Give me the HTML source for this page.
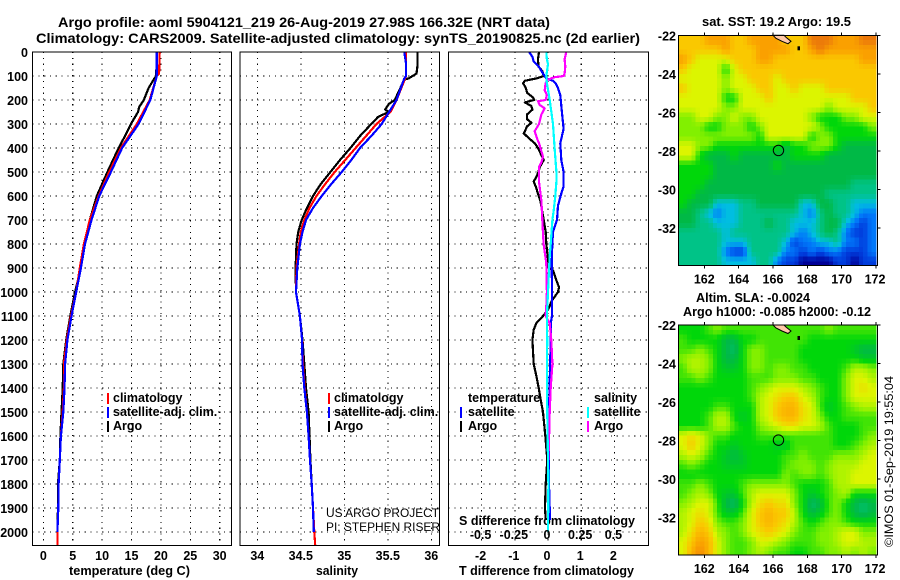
<!DOCTYPE html>
<html>
<head>
<meta charset="utf-8">
<style>
html,body{margin:0;padding:0;background:#fff;}
svg{display:block;}
text{font-family:"Liberation Sans",sans-serif;fill:#000;}
.b{font-weight:bold;font-size:12.5px;}
.t{font-weight:bold;font-size:14px;}
.n{font-size:12px;}
</style>
</head>
<body>
<svg id="chart" width="900" height="580" viewBox="0 0 900 580" xmlns="http://www.w3.org/2000/svg">
<rect width="900" height="580" fill="#fff"/>
<text class="t" x="58" y="27" textLength="492" lengthAdjust="spacingAndGlyphs">Argo profile: aoml 5904121_219 26-Aug-2019 27.98S 166.32E (NRT data)</text>
<text class="t" x="36" y="43" textLength="604" lengthAdjust="spacingAndGlyphs">Climatology: CARS2009. Satellite-adjusted climatology: synTS_20190825.nc (2d earlier)</text>
<text class="b" x="69" y="575" textLength="121" lengthAdjust="spacingAndGlyphs">temperature (deg C)</text>
<text class="b" x="316" y="575" textLength="42" lengthAdjust="spacingAndGlyphs">salinity</text>
<text class="b" x="459" y="575" textLength="175" lengthAdjust="spacingAndGlyphs">T difference from climatology</text>
<text class="b" x="459" y="525" textLength="176" lengthAdjust="spacingAndGlyphs">S difference from climatology</text>
<text class="b" x="702" y="26" textLength="149" lengthAdjust="spacingAndGlyphs">sat. SST: 19.2 Argo: 19.5</text>
<text class="b" x="696" y="302" textLength="114" lengthAdjust="spacingAndGlyphs">Altim. SLA: -0.0024</text>
<text class="b" x="683" y="316" textLength="188" lengthAdjust="spacingAndGlyphs">Argo h1000: -0.085 h2000: -0.12</text>
<text class="n" transform="translate(893,547) rotate(-90)" textLength="171" lengthAdjust="spacingAndGlyphs">©IMOS 01-Sep-2019 19:55:04</text>
<text class="n" x="326" y="517" textLength="113" lengthAdjust="spacingAndGlyphs">US ARGO PROJECT</text>
<text class="n" x="326" y="531" textLength="114" lengthAdjust="spacingAndGlyphs">PI: STEPHEN RISER</text>
<g id="layer"></g>
</svg>
<script>
// ---------- axis tick data ----------
const depthTicks = [0,100,200,300,400,500,600,700,800,900,1000,1100,1200,1300,1400,1500,1600,1700,1800,1900,2000];
const tempTicks = [0,5,10,15,20,25,30];
const salTicks = [34,34.5,35,35.5,36];
const salTickLabels = ['34','34.5','35','35.5','36'];
const tDiffTicks = [-2,-1,0,1,2];
const sDiffTicks = [-0.5,-0.25,0,0.25,0.5];
const sDiffTickLabels = ['-0.5','-0.25','0','0.25','0.5'];
const lonTicks = [162,164,166,168,170,172];
const latTicks = [-22,-24,-26,-28,-30,-32];

// ---------- temperature profiles ----------
const argoTempDepth = [0,100,110,150,200,230,250,300,350,400,500,600,700,800,900,1000,1100,1200,1300,1400,1500,1600,1700,1800,1900,1980];
const argoTemp = [19.3,19.2,18.9,17.9,17.1,16.3,16.1,14.9,13.9,12.8,10.9,9.1,7.9,7.1,6.4,5.4,4.6,3.9,3.4,3.3,3.1,2.9,2.8,2.5,2.5,2.4];
const climTempDepth = [0,90,100,200,300,400,500,600,700,800,900,1000,1100,1200,1300,1400,1500,1600,1700,1800,1900,2000,2055];
const climTemp = [19.8,19.7,19.3,18.1,15.9,13.2,11.2,9.4,7.9,6.9,6.2,5.6,4.7,4.0,3.5,3.5,3.3,3.0,2.8,2.6,2.55,2.4,2.4];
const satTempDepth = [0,100,200,300,400,500,600,700,800,900,1000,1100,1200,1300,1400,1500,1600,1700,1800,1900,2000];
const satTemp = [19.3,19.3,18.2,16.2,13.4,11.5,9.5,8.2,7.1,6.4,5.6,4.8,4.1,3.7,3.6,3.4,3.0,2.8,2.6,2.55,2.4];

// ---------- salinity profiles ----------
const argoSalDepth = [0,60,90,110,115,130,200,217,240,250,270,300,350,400,450,500,550,600,650,700,750,800,900,1000,1100,1200,1300,1400,1500,1600,1700,1800,1900,1980];
const argoSal = [35.84,35.84,35.83,35.74,35.69,35.67,35.58,35.51,35.47,35.51,35.39,35.31,35.18,35.07,34.95,34.84,34.73,34.64,34.57,34.51,34.47,34.45,34.44,34.445,34.49,34.52,34.54,34.56,34.59,34.60,34.61,34.625,34.64,34.65];
const climSalDepth = [0,100,200,250,300,350,400,450,500,550,600,650,700,750,800,900,1000,1100,1200,1300,1400,1500,1600,1700,1800,1900,2000,2055];
const climSal = [35.71,35.71,35.6,35.53,35.37,35.25,35.13,35.01,34.89,34.78,34.68,34.60,34.54,34.50,34.48,34.45,34.445,34.49,34.515,34.525,34.545,34.57,34.59,34.606,34.625,34.64,34.655,34.665];
const satSalDepth = [0,50,100,110,200,300,350,400,450,500,550,600,650,700,750,800,900,1000,1100,1200,1300,1400,1500,1600,1700,1800,1900,2000];
const satSal = [35.69,35.71,35.71,35.69,35.6,35.43,35.31,35.18,35.08,34.97,34.85,34.74,34.64,34.56,34.52,34.49,34.46,34.445,34.49,34.515,34.52,34.54,34.57,34.59,34.606,34.625,34.64,34.65];

// ---------- difference profiles ----------
const argoTDiffDepth = [0,30,60,80,100,110,120,130,150,170,190,200,210,225,240,260,280,295,310,339,360,380,400,430,450,480,500,520,540,560,590,620,700,750,800,900,910,950,980,1000,1020,1040,1060,1074,1108,1129,1157,1200,1300,1351,1400,1449,1500,1600,1700,1800,1900,1950];
const argoTDiff = [-0.27,-0.3,-0.29,-0.17,-0.13,-0.35,-0.7,-0.75,-0.67,-0.63,-0.45,-0.42,-0.7,-0.5,-0.47,-0.63,-0.63,-0.5,-0.63,-0.73,-0.57,-0.4,-0.3,-0.2,-0.13,-0.25,-0.29,-0.35,-0.43,-0.37,-0.3,-0.23,-0.13,-0.07,-0.05,0.03,0.15,0.25,0.33,0.3,0.2,0.1,0.05,0,-0.2,-0.35,-0.43,-0.47,-0.43,-0.35,-0.28,-0.22,-0.15,-0.08,-0.02,-0.07,-0.09,-0.07];
const satTDiffDepth = [0,20,40,60,90,110,120,130,150,180,250,320,380,450,500,560,590,640,700,750,800,880,1000,1100,1130,1200,1500,1800,1900,1950];
const satTDiff = [-0.57,-0.47,-0.43,-0.28,-0.15,-0.05,0.15,0.23,0.3,0.37,0.42,0.47,0.37,0.4,0.47,0.47,0.4,0.3,0.27,0.15,0.13,0.11,0.12,0.12,0.08,0.08,0.03,0.03,0.05,0.05];
const argoSDiffDepth = [0,30,60,90,100,105,115,130,160,180,200,205,220,235,260,300,330,360,380,436,460,480,540,620,700,800,880,1000,1060,1100,1130,1200,1300,1400,1500,1600,1700];
const argoSDiff = [0.138,0.125,0.13,0.125,0.118,0.05,0,-0.018,-0.025,-0.008,-0.018,-0.075,-0.063,-0.025,-0.05,-0.068,-0.1,-0.083,-0.068,-0.038,-0.05,-0.068,-0.068,-0.05,-0.043,-0.033,-0.013,-0.008,-0.013,-0.018,0.013,0.025,0.033,0.02,0.013,0.008,0.003];
const satSDiffDepth = [0,30,50,100,130,200,300,400,500,540,600,660,700,800,850,900,1000,1100,1200,1400,1600,1800,2000];
const satSDiff = [-0.013,-0.008,0,-0.013,-0.008,0.013,0.038,0.05,0.063,0.063,0.055,0.043,0.033,0.02,0.013,0.008,0,-0.008,-0.006,-0.008,-0.003,0.003,0];

// ---------- map grids: colour level per 0.5 deg cell, rows from 22S, columns from 160.5E ----------
const sstGrid = [
[9,9,9,10,10,10,9,9,10,10,10,10,9,9,9,11,11,11,10,10,10,11,11],
[9,9,9,9,9,10,9,9,9,10,10,10,10,9,9,10,11,10,10,10,10,10,10],
[10,9,8,8,8,8,9,9,9,10,10,9,9,9,9,9,9,9,9,9,9,10,10],
[9,8,8,8,8,6,8,9,9,9,9,9,9,9,9,9,9,9,9,9,9,9,9],
[8,8,8,8,8,7,8,8,9,9,9,8,9,9,9,9,9,9,9,9,9,9,9],
[9,8,8,8,8,7,8,8,8,9,9,8,8,9,8,8,8,9,9,9,9,9,9],
[8,8,8,8,8,6,6,8,8,8,9,8,8,8,8,8,8,8,8,8,9,9,9],
[8,8,8,8,8,7,7,8,8,8,8,8,8,8,8,8,8,7,8,8,8,8,9],
[7,7,8,8,7,7,8,7,7,8,8,8,8,8,8,7,6,6,6,7,7,8,8],
[7,7,7,6,6,7,7,7,6,7,8,8,8,8,8,8,7,6,6,6,6,6,7],
[7,7,7,7,7,7,7,7,7,6,8,8,8,8,8,6,7,7,6,6,6,6,6],
[8,8,7,7,6,6,6,6,6,6,6,6,5,6,6,7,7,7,6,5,5,5,5],
[8,8,6,5,5,5,6,5,5,5,5,5,5,6,6,6,6,5,5,5,5,5,5],
[6,6,6,6,5,5,5,5,5,5,5,6,5,5,5,5,5,5,5,5,5,5,5],
[6,6,6,6,5,5,5,5,5,5,5,5,5,5,5,5,5,5,5,5,5,5,5],
[6,6,6,5,5,5,5,5,5,5,5,5,5,5,5,5,5,5,5,5,4,4,4],
[6,6,5,5,5,5,5,5,5,5,5,5,5,5,5,5,5,4,4,4,4,4,4],
[6,5,5,5,3,3,3,4,4,5,5,5,5,5,3,3,5,5,4,4,3,3,3],
[5,5,4,3,2,3,3,4,4,4,4,4,4,4,3,2,4,5,4,4,3,2,2],
[5,5,4,4,3,3,3,4,4,4,5,4,4,3,3,3,4,5,5,3,2,1,2],
[4,4,4,4,4,3,4,4,4,4,4,4,4,3,2,3,4,5,4,2,1,1,2],
[4,4,4,4,4,3,3,3,4,4,4,4,3,1,2,2,3,3,4,2,2,1,2],
[4,4,4,4,4,2,1,1,4,4,4,4,2,2,1,2,1,2,2,1,1,1,2],
[4,4,4,4,4,3,3,3,3,4,4,2,1,1,0,0,0,0,1,1,0,1,1]
];
const slaGrid = [
[6,6,6,6.5,7,6.5,6.5,6.5,6.5,6.5,6.5,6.5,6.5,6.5,6.5,6.5,6.5,7,6.5,6.5,6.5,6.5,6.5],
[6.5,6,6,6,6,5,5,6,6,6.5,6.5,6.5,6.5,6.5,6.5,6,6,6,6,6,6,6,6],
[6.5,6.5,7,6.5,6,5,4.5,6,7,7,6.5,6.5,6.5,6.5,6,6,6,6,6,6,5.5,5,5],
[7,7.5,7.5,7,6,5,5,6,7,7,6.5,6.5,6.5,6.5,6,6,6,6,6,6,6,5.5,5.5],
[6.5,7.5,7.5,7,6,5.5,5.5,6,7,7,6.5,7,7,6.5,6.5,6,6,6,6,6.5,7.5,7.5,7],
[6.5,6.5,7,6.5,6,6,6,6,6.5,6.5,6.5,7,7,7,6.5,6.5,6,6,6,7,8,8,7.5],
[6,6,6,6,6,6,6,6,6.5,7,7.5,8,8,8,7.5,7,6.5,6,6,7,8,8.5,8],
[6,6,6,6,6,6,6,6,6.5,7.5,8,8.5,9,9,8,7.5,6.5,6,6,7,8,8,8],
[6,6,6,6,6.5,6.5,6,6,6,7.5,8,9,9.5,9.5,8.5,8,6.5,5.5,6,6.5,7,7.5,7.5],
[6,6,6,6.5,7.5,7.5,6,5.5,6,7.5,8,9,9.5,9.5,8.5,8,7,6,6,6.5,6.5,6.5,6.5],
[6,6,6,6.5,7.5,7.5,6.5,6,6,7,7.5,8,8.5,8.5,8,8,7.5,6.5,6,6,6,6.5,6.5],
[8,8.5,8,7,6.5,6.5,6,6,6,6.5,6.5,6.5,6.5,6.5,6.5,6.5,6.5,6.5,6,6,6,6.5,7],
[8,9,8,7,6,6,5.5,6,6,6,6,5.5,5.5,6.5,6.5,6.5,6.5,6.5,6,6,6.5,7,7.5],
[7.5,8,7.5,6.5,6,5.5,5,5.5,6,6,6,6,6.5,6.5,7,6.5,6.5,6.5,7,7,7,7.5,8],
[6.5,7,6.5,6,6,5.5,5.5,5.5,6,6,6,6,6.5,7,7,7,6.5,7,7.5,7.5,7.5,8,8],
[6,6,6,6,6,6,6,6,6,6,6,6,7,6.5,7,7,6.5,7,7.5,7.5,8,8,8],
[6.5,6.5,7,6.5,6,6,6,6.5,7,7,7,7,7,6.5,6,6,6,6.5,7.5,7.5,8,8,8],
[6.5,7,7.5,7,6,5.5,5.5,6.5,7.5,8,8,8,8,7,6,5.5,6,6.5,7,7.5,6,6,6],
[7,7.5,8,8,6.5,5,4.5,6,7.5,8.5,9,8.5,8.5,7,6,4.5,5,6.5,7,6,5,4.5,5],
[7.5,8,8.5,8,6.5,5.5,5.5,6.5,8,9,9.5,9,9,7.5,6,5,5.5,6.5,7,6,5,4.5,5],
[7.5,8,9,8.5,7,6.5,6.5,7,8,9,9.5,9,8.5,7.5,6.5,6,6.5,7,7,6.5,6,6,6],
[7.5,8.5,9.5,9,7.5,7,6.5,7,8,8.5,9,8.5,8,7,6.5,6.5,7,7,7.5,8,8,7,7],
[8,9,10,9.5,8,7,6.5,6.5,7,8,8,7.5,7,6.5,6.5,6.5,7,7,7.5,8,8,7.5,7.5],
[8,9.5,10.5,9.5,8,7,6.5,6.5,7,7.5,7,6.5,6.5,6,6,6.5,6.5,7,7,7.5,7,7.5,7]
];

// ---------- profile location ----------
const argoLon = 166.32;
const argoLat = -27.98;

// ---------- axis functions ----------
const NS = 'http://www.w3.org/2000/svg';
const layer = document.getElementById('layer');
const yDepth = d => 52 + d * 0.24;
const xTemp = v => 43.3 + v * 5.88;
const xSal = v => 257.3 + (v - 34) * 87;
const xTDiff = v => 548 + v * 33.2;
const xSDiff = v => 548 + v * 132.8;
const xLon = v => 704.3 + (v - 162) * 17.17;
const yLatA = v => 35.3 + (-22 - v) * 19.25;
const yLatB = v => 325 + (-22 - v) * 19.25;

const PANEL_TOP = 52, PANEL_BOTTOM = 545.5;
const panels = [
  {name:'temperature', left:32.5, right:231.5},
  {name:'salinity', left:240, right:439.5},
  {name:'difference', left:448.5, right:648.5}
];
const palette = [[0,0,150],[0,60,220],[0,120,250],[0,190,225],[0,195,135],[0,185,70],[0,215,10],[130,240,0],[220,245,0],[250,200,0],[250,160,0],[235,120,10]];
function levelColor(l){
  const c = Math.max(0, Math.min(palette.length - 1.001, l));
  const i = Math.floor(c), f = c - i;
  const m = k => Math.round(palette[i][k] + (palette[i + 1][k] - palette[i][k]) * f);
  return 'rgb(' + m(0) + ',' + m(1) + ',' + m(2) + ')';
}
function mk(tag, attrs, parent){
  const el = document.createElementNS(NS, tag);
  for (const k in attrs) el.setAttribute(k, attrs[k]);
  (parent || layer).appendChild(el);
  return el;
}
function label(txt, x, y, anchor, name){
  const el = mk('text', {x:x, y:y, 'text-anchor':anchor, 'class':'b'});
  
  
  el.textContent = txt;
  return el;
}
function dotted(x1, y1, x2, y2, name){
  const el = mk('line', {x1:x1, y1:y1, x2:x2, y2:y2, stroke:'#000', 'stroke-width':1.1, 'stroke-dasharray':'1.2 4.6', 'shape-rendering':'crispEdges'});
  
  
}
function profile(depths, values, xf, color, name){
  const pts = depths.map((d, i) => xf(values[i]).toFixed(1) + ',' + yDepth(d).toFixed(1)).join(' ');
  const el = mk('polyline', {points:pts, fill:'none', stroke:color, 'stroke-width':2.2, 'stroke-linejoin':'round', 'shape-rendering':'crispEdges'});
  
  
}
function legendTick(x, y, color, name){
  const el = mk('rect', {x:x, y:y - 5, width:2, height:11, fill:color});
  
  
}

// ---------- profile panels: grid ----------
panels.forEach(p => {
  depthTicks.forEach(d => {
    dotted(p.left, yDepth(d), p.right, yDepth(d), p.name + '-depth-gridline');
  });
});
tempTicks.forEach(t => {
  dotted(xTemp(t), PANEL_TOP, xTemp(t), PANEL_BOTTOM, 'temperature-gridline');
  label(String(t), xTemp(t), 560, 'middle', 'temperature-tick-label');
});
salTicks.forEach((s, i) => {
  dotted(xSal(s), PANEL_TOP, xSal(s), PANEL_BOTTOM, 'salinity-gridline');
  label(salTickLabels[i], xSal(s), 560, 'middle', 'salinity-tick-label');
});
tDiffTicks.forEach(t => {
  dotted(xTDiff(t), PANEL_TOP, xTDiff(t), PANEL_BOTTOM, 'difference-gridline');
  label(String(t), xTDiff(t) - 1, 560, 'middle', 't-difference-tick-label');
});
depthTicks.forEach(d => {
  label(String(d), 28, yDepth(d) + 5, 'end', 'depth-tick-label');
});

// ---------- profile panels: series ----------
profile(argoTempDepth, argoTemp, xTemp, '#000', 'argo-temperature-line');
profile(climTempDepth, climTemp, xTemp, '#f00', 'climatology-temperature-line');
profile(satTempDepth, satTemp, xTemp, '#00f', 'satellite-temperature-line');
profile(argoSalDepth, argoSal, xSal, '#000', 'argo-salinity-line');
profile(climSalDepth, climSal, xSal, '#f00', 'climatology-salinity-line');
profile(satSalDepth, satSal, xSal, '#00f', 'satellite-salinity-line');
profile(argoTDiffDepth, argoTDiff, xTDiff, '#000', 'argo-t-difference-line');
profile(satTDiffDepth, satTDiff, xTDiff, '#00f', 'satellite-t-difference-line');
profile(argoSDiffDepth, argoSDiff, xSDiff, '#f0f', 'argo-s-difference-line');
profile(satSDiffDepth, satSDiff, xSDiff, '#0ff', 'satellite-s-difference-line');

// ---------- profile panels: frames ----------
panels.forEach(p => {
  const el = mk('rect', {x:p.left, y:PANEL_TOP, width:p.right - p.left, height:PANEL_BOTTOM - PANEL_TOP, fill:'none', stroke:'#000', 'stroke-width':1, 'shape-rendering':'crispEdges'});
  
  
});

// ---------- legends ----------
legendTick(107, 398, '#f00', 'legend-climatology-swatch');
label('climatology', 113, 402, 'start', 'legend-climatology');
legendTick(107, 412, '#00f', 'legend-satellite-swatch');
label('satellite-adj. clim.', 113, 416, 'start', 'legend-satellite');
legendTick(107, 426, '#000', 'legend-argo-swatch');
label('Argo', 113, 430, 'start', 'legend-argo');
legendTick(328, 398, '#f00', 'legend-climatology-swatch');
label('climatology', 334, 402, 'start', 'legend-climatology');
legendTick(328, 412, '#00f', 'legend-satellite-swatch');
label('satellite-adj. clim.', 334, 416, 'start', 'legend-satellite');
legendTick(328, 426, '#000', 'legend-argo-swatch');
label('Argo', 334, 430, 'start', 'legend-argo');
label('temperature', 468, 402, 'start', 'legend-temperature-heading');
legendTick(460, 412, '#00f', 'legend-t-satellite-swatch');
label('satellite', 468, 416, 'start', 'legend-t-satellite');
legendTick(460, 426, '#000', 'legend-t-argo-swatch');
label('Argo', 468, 430, 'start', 'legend-t-argo');
label('salinity', 594, 402, 'start', 'legend-salinity-heading');
legendTick(587, 412, '#0ff', 'legend-s-satellite-swatch');
label('satellite', 594, 416, 'start', 'legend-s-satellite');
legendTick(587, 426, '#f0f', 'legend-s-argo-swatch');
label('Argo', 594, 430, 'start', 'legend-s-argo');
sDiffTicks.forEach((s, i) => {
  label(sDiffTickLabels[i], xSDiff(s) - 1, 539, 'middle', 's-difference-tick-label');
});

// ---------- maps ----------
function drawMap(grid, yLat, sub, name){
  const g = mk('g', {'shape-rendering':'crispEdges'});
  
  
  const rows = grid.length, cols = grid[0].length;
  const lonEdge = 172.08, latEdge = -33.95;
  const val = (r, c) => grid[Math.min(rows - 1, Math.max(0, r))][Math.min(cols - 1, Math.max(0, c))];
  for (let r = 0; r < rows * sub; r++){
    for (let c = 0; c < cols * sub; c++){
      const lon0 = 160.5 + c * 0.5 / sub, lon1 = Math.min(lonEdge, lon0 + 0.5 / sub);
      const lat0 = -22 - r * 0.5 / sub, lat1 = Math.max(latEdge, lat0 - 0.5 / sub);
      if (lon0 >= lonEdge || lat0 <= latEdge) continue;
      const fr = (r + 0.5) / sub - 0.5, fc = (c + 0.5) / sub - 0.5;
      const r0 = Math.floor(fr), c0 = Math.floor(fc), dr = fr - r0, dc = fc - c0;
      const v = val(r0, c0) * (1 - dr) * (1 - dc) + val(r0, c0 + 1) * (1 - dr) * dc + val(r0 + 1, c0) * dr * (1 - dc) + val(r0 + 1, c0 + 1) * dr * dc;
      const cell = mk('rect', {x:xLon(lon0).toFixed(2), y:yLat(lat0).toFixed(2), width:(xLon(lon1) - xLon(lon0) + 0.4).toFixed(2), height:(yLat(lat1) - yLat(lat0) + 0.4).toFixed(2), fill:levelColor(v)}, g);
      
      
    }
  }
  const top = yLat(-22), bottom = yLat(-33.95), left = xLon(160.5), right = xLon(172.08);

  const land = mk('polygon', {points:[[773,top],[776,top + 3],[782,top + 6],[788,top + 8.5],[791,top + 6],[786,top + 2],[784,top]].map(p => p.join(',')).join(' '), fill:'#ffc8a8', stroke:'#000', 'stroke-width':1});
  
  
  const islet = mk('rect', {x:797.5, y:top + 11, width:2.5, height:4, fill:'#000'});
  
  

  const frame = mk('rect', {x:left, y:top, width:right - left, height:bottom - top, fill:'none', stroke:'#000', 'stroke-width':1, 'shape-rendering':'crispEdges'});
  
  

  lonTicks.forEach(l => {
    const x = xLon(l);
    const t1 = mk('line', {x1:x, y1:top - 3, x2:x, y2:top, stroke:'#000', 'shape-rendering':'crispEdges'});
    
    
    const t2 = mk('line', {x1:x, y1:bottom, x2:x, y2:bottom + 3, stroke:'#000', 'shape-rendering':'crispEdges'});
    
    
    label(String(l), Math.min(x, 875), bottom + 18, 'middle', name + '-longitude-label');
  });
  latTicks.forEach(l => {
    const y = yLat(l);
    const t = mk('line', {x1:right, y1:y, x2:right + 3, y2:y, stroke:'#000', 'shape-rendering':'crispEdges'});
    
    
    label(String(l), 676, y + 5, 'end', name + '-latitude-label');
  });
  const marker = mk('circle', {cx:xLon(argoLon), cy:yLat(argoLat), r:5.2, fill:'none', stroke:'#000', 'stroke-width':1});
  
  
}
drawMap(sstGrid, yLatA, 2, 'sst-map');
drawMap(slaGrid, yLatB, 2, 'sla-map');
</script>
</body>
</html>
